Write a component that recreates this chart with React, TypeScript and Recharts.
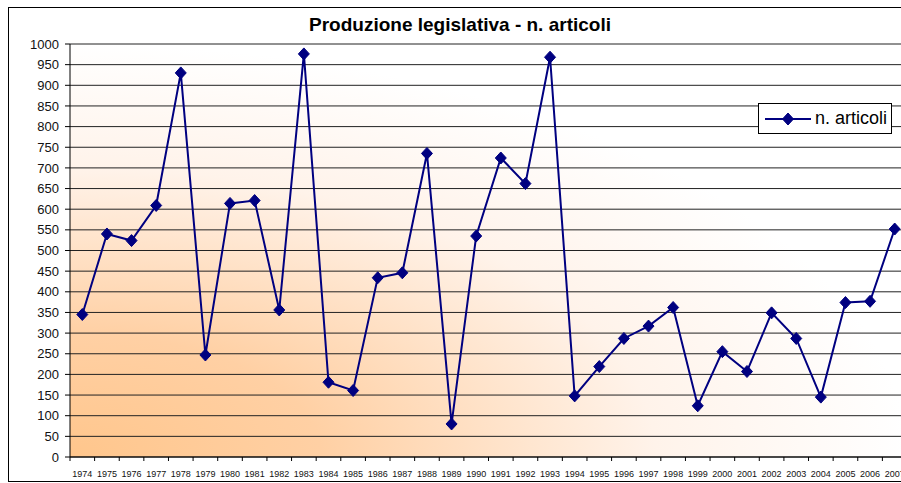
import { CartesianGrid, Legend, Line, LineChart, XAxis, YAxis } from "recharts";

const anni = [
    "1974", "1975", "1976", "1977", "1978", "1979", "1980", "1981", "1982", "1983",
    "1984", "1985", "1986", "1987", "1988", "1989", "1990", "1991", "1992", "1993",
    "1994", "1995", "1996", "1997", "1998", "1999", "2000", "2001", "2002", "2003",
    "2004", "2005", "2006", "2007",
];
const articoli = [
    345, 540, 524, 609, 930, 247, 614, 621, 356, 976,
    181, 161, 434, 446, 735, 80, 535, 724, 662, 968,
    148, 219, 287, 317, 362, 124, 255, 207, 349, 287,
    145, 374, 377, 552,
];
const yTicks = [
    0, 50, 100, 150, 200, 250, 300, 350, 400, 450, 500,
    550, 600, 650, 700, 750, 800, 850, 900, 950, 1000,
];

const chartData = anni.map((anno, i) => ({ anno, valore: articoli[i] }));

const NAVY = "#000080";
const FONT = "'Liberation Sans', Arial, sans-serif";

const W = 910;
const H = 475;
const MARGIN = { top: 36, right: 11, left: 0, bottom: 0 };
const Y_WIDTH = 62;
const PLOT_W = W - Y_WIDTH - MARGIN.left - MARGIN.right;

const Diamond = ({ cx, cy }: any) => {
    if (cx == null || cy == null) return null;
    return (
        <polygon
            points={`${cx},${cy - 6} ${cx + 5.5},${cy} ${cx},${cy + 6} ${cx - 5.5},${cy}`}
            fill={NAVY}
            stroke={NAVY}
            strokeWidth={1}
        />
    );
};

// Excel puts the ticks between categories, so draw them half a band to the left
const YearTick = (props: any) => {
    const { x, y, payload, index } = props;
    const half = PLOT_W / anni.length / 2;
    const last = index === anni.length - 1;
    return (
        <g>
            <line x1={x - half} y1={y} x2={x - half} y2={y + 4} stroke="#000" />
            {last && <line x1={x + half} y1={y} x2={x + half} y2={y + 4} stroke="#000" />}
            <text x={x} y={y + 20} textAnchor="middle" fontSize={9} fontFamily={FONT} fill="#111">
                {payload.value}
            </text>
        </g>
    );
};

const LegendBox = () => (
    <div
        style={{
            border: "1px solid #000",
            background: "#fff",
            width: 134,
            height: 31,
            boxSizing: "border-box",
            display: "flex",
            alignItems: "center",
            fontFamily: FONT,
            fontSize: 18,
            color: "#000",
        }}
    >
        <svg width={56} height={20}>
            <line x1={6} y1={10} x2={52} y2={10} stroke={NAVY} strokeWidth={2} />
            <Diamond cx={29} cy={10} />
        </svg>
        <span>n. articoli</span>
    </div>
);

export default function App() {
    return (
        <div
            style={{
                position: "fixed",
                left: 0,
                top: 0,
                width: 901,
                height: 483,
                overflow: "hidden",
                background: "#fff",
            }}
        >
            <div style={{ position: "absolute", left: 8, top: 8, width: W, height: H }}>
                <div
                    style={{
                        position: "absolute",
                        left: 0,
                        top: -1,
                        width: 920,
                        height: H,
                        border: "1px solid #000",
                        boxSizing: "border-box",
                        pointerEvents: "none",
                    }}
                />
                <div
                    style={{
                        position: "absolute",
                        left: 0,
                        top: 6,
                        width: 904,
                        textAlign: "center",
                        fontFamily: FONT,
                        fontWeight: "bold",
                        fontSize: 19,
                        color: "#000",
                    }}
                >
                    Produzione legislativa - n. articoli
                </div>
                <LineChart width={W} height={H} data={chartData} margin={MARGIN}>
                    <defs>
                        <radialGradient id="sfondo" cx="0" cy="1" r="1">
                            <stop offset="0" stopColor="#FFC68C" />
                            <stop offset="0.3" stopColor="#FFD0A4" />
                            <stop offset="0.7" stopColor="#FFF3EA" />
                            <stop offset="1" stopColor="#FFFFFF" />
                        </radialGradient>
                    </defs>
                    <CartesianGrid
                        vertical={false}
                        stroke="#222"
                        strokeWidth={1}
                        fill="url(#sfondo)"
                        fillOpacity={1}
                    />
                    <XAxis
                        dataKey="anno"
                        scale="band"
                        interval={0}
                        height={26}
                        tickLine={false}
                        tickSize={0}
                        tickMargin={0}
                        axisLine={{ stroke: "#000" }}
                        tick={<YearTick />}
                    />
                    <YAxis
                        domain={[0, 1000]}
                        ticks={yTicks}
                        interval={0}
                        width={Y_WIDTH}
                        tickSize={5}
                        tickMargin={6}
                        axisLine={{ stroke: "#000" }}
                        tickLine={{ stroke: "#000" }}
                        tick={{ fontSize: 13, fontFamily: FONT, fill: "#111" }}
                    />
                    <Legend
                        layout="vertical"
                        align="center"
                        verticalAlign="middle"
                        content={<LegendBox />}
                        wrapperStyle={{ left: 750, top: 95, width: 134, height: 31 }}
                    />
                    <Line
                        type="linear"
                        dataKey="valore"
                        name="n. articoli"
                        stroke={NAVY}
                        strokeWidth={2}
                        dot={<Diamond />}
                        activeDot={false}
                        isAnimationActive={false}
                    />
                </LineChart>
            </div>
        </div>
    );
}
